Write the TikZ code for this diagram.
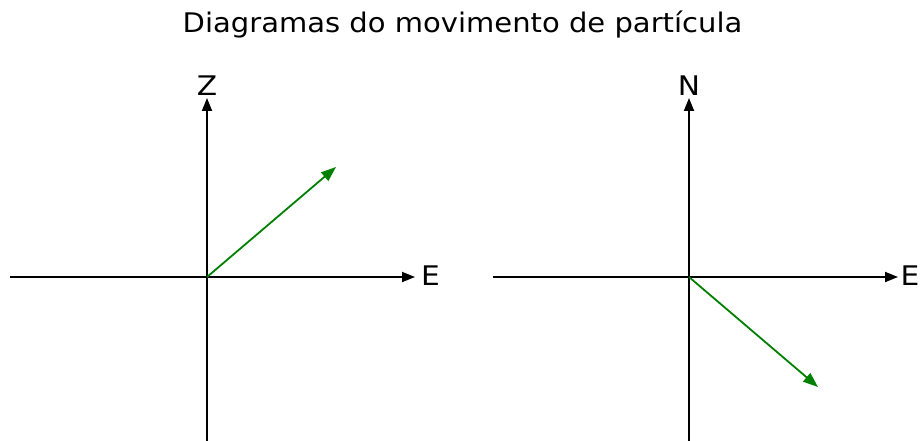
\documentclass[tikz,border=0pt]{standalone}
\usepackage{fontspec}
\setmainfont{DejaVu Sans}
\usetikzlibrary{arrows.meta}
\definecolor{mplgreen}{RGB}{0,128,0}
\begin{document}
\begin{tikzpicture}[x=1pt,y=-1pt,
  lbl/.style={inner sep=0pt,font=\fontsize{27}{32}\selectfont},
  axlbl/.style={inner sep=0pt,font=\fontsize{27}{32}\selectfont},
  axis/.style={line width=1.8pt,black,-{Triangle[length=13pt,width=10pt]}},
  vec/.style={line width=1.8pt,mplgreen,-{Triangle[length=15pt,width=11pt]}}]
\useasboundingbox (0,0) rectangle (923,441);
% title
\node[lbl,anchor=base] (title) at (462.5,33) {\scalebox{1.075}[1]{Diagramas do movimento de partícula}};
% left diagram
\coordinate (o1) at (207,277);
\coordinate (l1w) at (10,277);
\coordinate (l1e) at (415,277);
\coordinate (l1s) at (207,441);
\coordinate (l1n) at (207,98);
\coordinate (v1) at (336,167);
\draw[axis] (l1w) -- (l1e);
\draw[axis] (l1s) -- (l1n);
\draw[vec] (o1) -- (v1);
\node[axlbl,anchor=base] (z) at (207,96) {\scalebox{1.1}[1]{Z}};
\node[axlbl,anchor=base west] (e1) at (421,285) {\scalebox{1.1}[1]{E}};
% right diagram
\coordinate (o2) at (689,277);
\coordinate (l2w) at (493,277);
\coordinate (l2e) at (898,277);
\coordinate (l2s) at (689,441);
\coordinate (l2n) at (689,98);
\coordinate (v2) at (818,387);
\draw[axis] (l2w) -- (l2e);
\draw[axis] (l2s) -- (l2n);
\draw[vec] (o2) -- (v2);
\node[axlbl,anchor=base] (n) at (689,96) {\scalebox{1.1}[1]{N}};
\node[axlbl,anchor=base west] (e2) at (900.5,285) {\scalebox{1.1}[1]{E}};
\end{tikzpicture}
\end{document}
